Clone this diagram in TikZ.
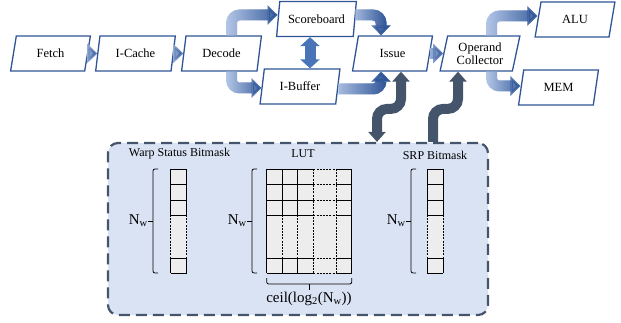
\documentclass[tikz,border=0pt]{standalone}
\usepackage{fontspec}
\setmainfont{Liberation Serif}
\usetikzlibrary{arrows.meta, shapes.geometric, fadings}

\definecolor{boxblue}{HTML}{2F5597}
\definecolor{lightblue}{HTML}{B4C7E7}
\definecolor{midblue}{HTML}{4A74B8}
\definecolor{slate}{HTML}{44546A}
\definecolor{panelfill}{HTML}{DAE3F3}
\definecolor{cellfill}{HTML}{EDEDED}

\tikzfading[name=fadein, left color=transparent!100, right color=transparent!0]

\tikzset{
  stage/.style={trapezium,trapezium left angle=77,trapezium right angle=103,trapezium stretches=true,
    draw=boxblue,line width=1.3pt,fill=white,minimum width=80pt,minimum height=35pt,
    inner sep=1pt,align=center,font=\fontsize{12.5}{13.5}\selectfont},
  fat/.style={line width=11pt,draw=lightblue,rounded corners=8pt,-{Triangle[width=19pt,length=10pt]},
    postaction={draw=boxblue,path fading=fadein}},
  fatboth/.style={line width=11pt,draw=midblue,{Triangle[width=19pt,length=9pt]}-{Triangle[width=19pt,length=9pt]}},
  link/.style={line width=10pt,draw=slate,rounded corners=10pt,-{Triangle[width=17pt,length=10pt]}},
  linkboth/.style={link,{Triangle[width=17pt,length=10pt]}-{Triangle[width=17pt,length=10pt]}},
  panel/.style={rectangle,draw=slate,fill=panelfill,line width=2.2pt,rounded corners=10pt,
    dash pattern=on 11pt off 6pt},
  tag/.style={font=\fontsize{12}{13}\selectfont,inner sep=0pt},
  size/.style={font=\fontsize{15}{16}\selectfont,inner sep=0pt},
  brk/.style={line width=0.8pt,rounded corners=2pt},
  grid/.style={line width=0.9pt},
  dgrid/.style={line width=0.7pt,dash pattern=on 2pt off 1.2pt}
}

\begin{document}
\begin{tikzpicture}[x=1pt,y=-1pt]
\useasboundingbox (0,0) rectangle (621,323);

% pipeline
\node[stage] (fe) at (50.5,53.5) {Fetch};
\node[stage] (ic) at (135.5,53.5) {I-Cache};
\node[stage] (dec) at (221.5,53.5) {Decode};
\node[stage] (sb) at (316.5,19) {Scoreboard};
\node[stage] (ib) at (300,86.5) {I-Buffer};
\node[stage] (iss) at (392.5,53.5) {Issue};
\node[stage] (oc) at (480,53.5) {Operand\\Collector};
\node[stage] (alu) at (575,19.5) {ALU};
\node[stage] (mem) at (558.5,87.5) {MEM};

\draw[fat] (fe) -- (ic);
\draw[fat] (ic) -- (dec);
\draw[fat] ([xshift=10pt]dec.north) |- ([yshift=4pt]sb.west);
\draw[fat] ([xshift=10pt]dec.south) |- ([yshift=-1.5pt]ib.west);
\draw[fatboth] ([xshift=-6.5pt]sb.south) -- ([xshift=-6.5pt]sb.south |- ib.north);
\draw[fat] ([yshift=4pt]sb.east) -| ([xshift=-11.5pt]iss.north);
\draw[fat] ([yshift=-2.5pt]ib.east) -| ([xshift=-11.5pt]iss.south);
\draw[fat] (iss) -- (oc);
\draw[fat] ([xshift=11.5pt]oc.north) |- ([yshift=3.5pt]alu.west);
\draw[fat] ([xshift=11.5pt]oc.south) |- ([yshift=1.5pt]mem.west);

% scheduler tables
\node[panel,minimum width=380pt,minimum height=172pt] (pnl) at (298,229) {};
\draw[linkboth] ([xshift=-15.5pt]iss.south |- pnl.north) -- ++(0,-33) -| ([xshift=8.5pt]iss.south);
\draw[link] ([xshift=-47pt]oc.south |- pnl.north) -- ++(0,-33) -| ([xshift=-22pt]oc.south);

\node[tag] (wsb) at (179.5,154) {Warp Status Bitmask};
\node[tag] (lut) at (303,154) {LUT};
\node[tag] (srp) at (435,155) {SRP Bitmask};

% bitmask columns
\foreach \x in {170.7,427} {
  \fill[cellfill] (\x,169) rectangle (\x+16,273);
  \foreach \y in {169,184,200,215,258,273}
    \draw[grid] (\x,\y) -- (\x+16,\y);
  \draw[grid] (\x,169) -- (\x,215) (\x+16,169) -- (\x+16,215)
    (\x,258) -- (\x,273) (\x+16,258) -- (\x+16,273);
  \draw[dgrid] (\x,215) -- (\x,258) (\x+16,215) -- (\x+16,258);
}

% lut grid
\fill[cellfill] (266.7,169) rectangle (351.7,273);
\foreach \y in {169,184,200,215,258,273} {
  \draw[grid] (266.7,\y) -- (313.3,\y) (336,\y) -- (351.7,\y);
  \draw[dgrid] (313.3,\y) -- (336,\y);
}
\foreach \x in {282.3,297.7} {
  \draw[grid] (\x,169) -- (\x,215) (\x,258) -- (\x,273);
  \draw[dgrid] (\x,215) -- (\x,258);
}
\draw[dgrid] (313.3,169) -- (313.3,273) (336,169) -- (336,273);
\draw[grid] (266.7,169) -- (266.7,273) (351.7,169) -- (351.7,273);

% brackets
\foreach \x/\n in {153/a,252/b,411/c} {
  \draw[brk] (\x+5,169) -- (\x,169) -- (\x,273) -- (\x+5,273);
  \draw[brk] (\x,221) -- (\x-5,221) coordinate (tip\n);
}
\node[size,anchor=east] (nwa) at (tipa) {N\textsubscript{w}};
\node[size,anchor=east] (nwb) at (tipb) {N\textsubscript{w}};
\node[size,anchor=east] (nwc) at (tipc) {N\textsubscript{w}};
\draw[brk] (266.7,278) -- (266.7,284) -- (351.7,284) -- (351.7,278);
\draw[brk] (309,284) -- (309,290) coordinate (tipd);
\node[size,anchor=north] (bits) at ([yshift=-2pt]tipd) {ceil(log\textsubscript{2}(N\textsubscript{w}))};
\end{tikzpicture}
\end{document}
